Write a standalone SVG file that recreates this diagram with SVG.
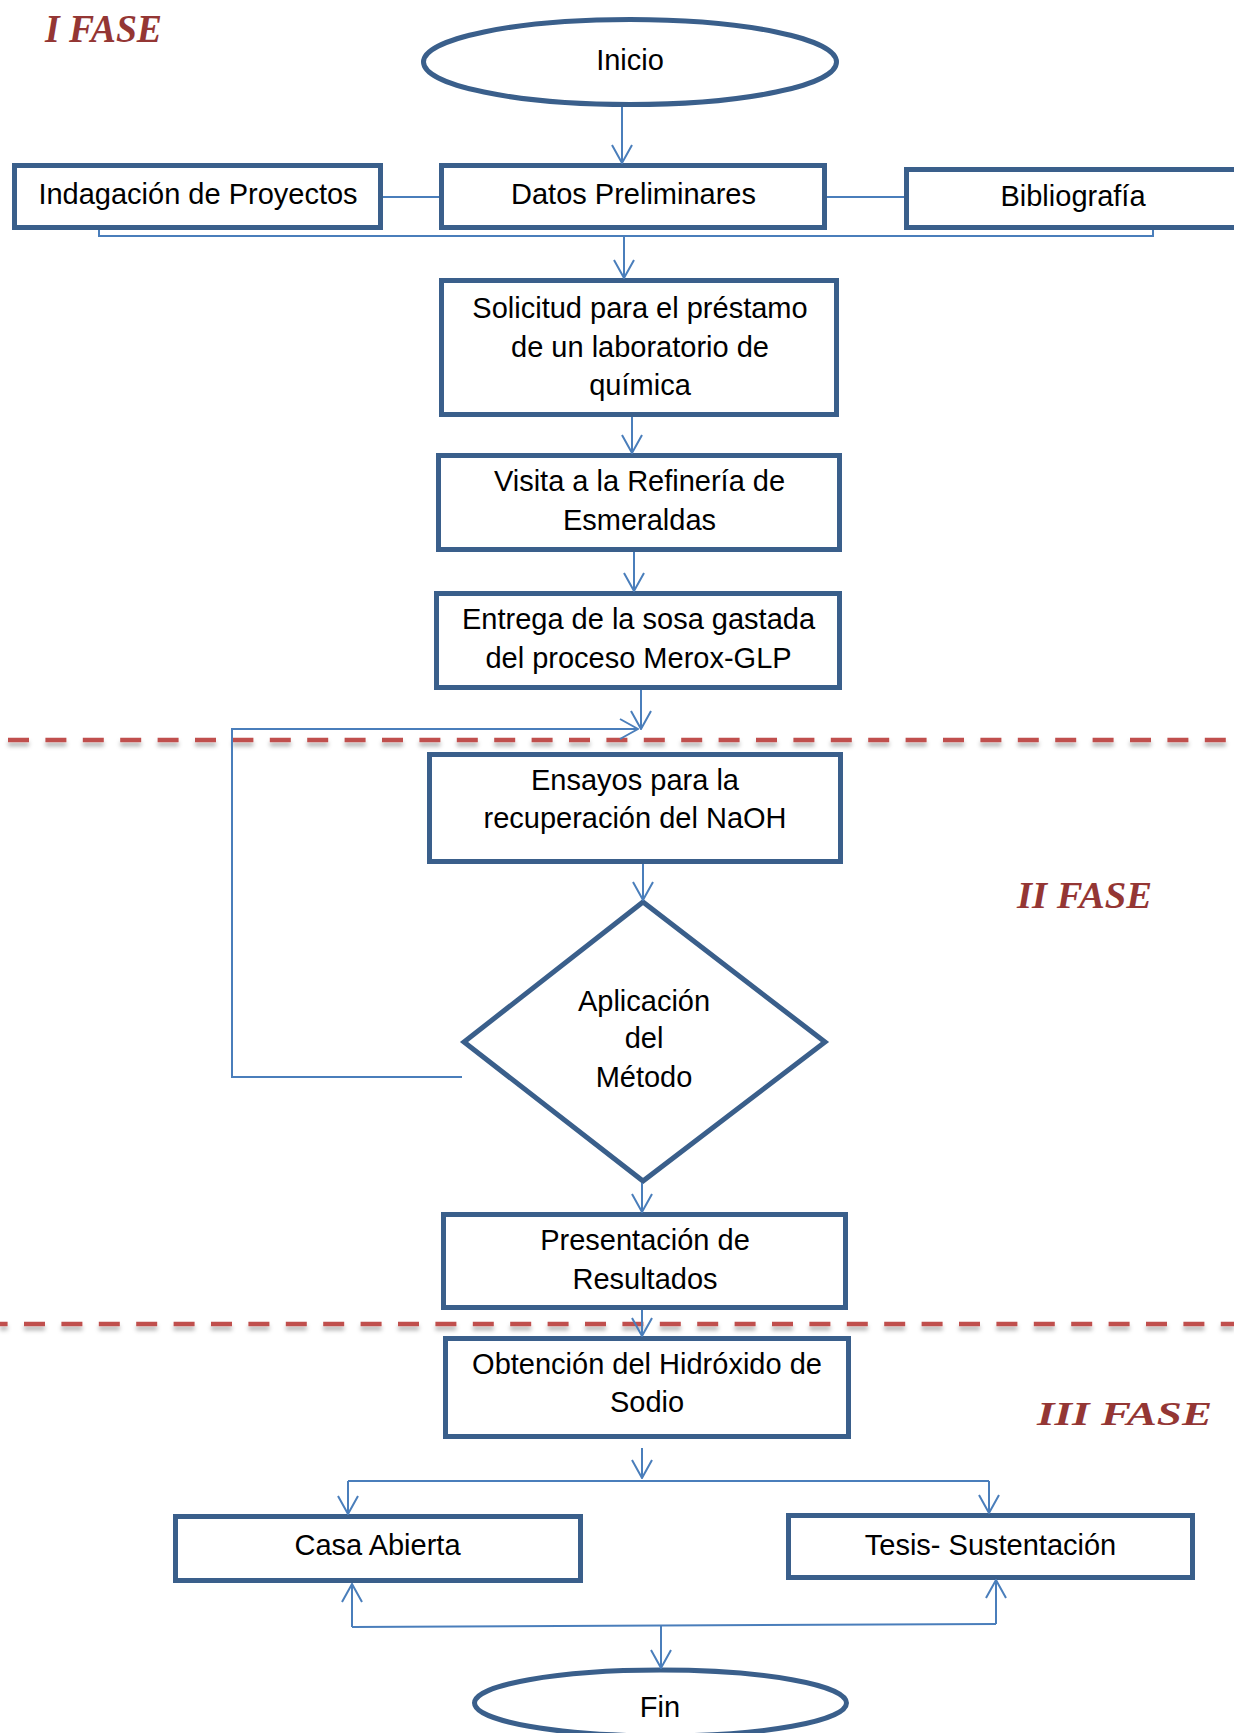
<svg xmlns="http://www.w3.org/2000/svg" width="1234" height="1733" viewBox="0 0 1234 1733">
<style>
.box{fill:#ffffff;stroke:#3A5F8B;stroke-width:5}
.lbl{font-family:"Liberation Sans",Arial,sans-serif;font-size:29px;fill:#000000;text-anchor:middle}
.fase{font-family:"Liberation Serif","Times New Roman",serif;font-weight:bold;font-style:italic;fill:#943634}
.con{fill:none;stroke:#4A7EBB;stroke-width:2}
.arr{marker-end:url(#ah)}
.dash{fill:none;stroke:#C0504D;stroke-width:4.5;stroke-dasharray:21 16.4}
</style>
<defs>
<marker id="ah" markerUnits="userSpaceOnUse" viewBox="0 0 20 22" refX="19" refY="11" markerWidth="20" markerHeight="22" orient="auto">
<path d="M1,1 L19,11 L1,21" fill="none" stroke="#4A7EBB" stroke-width="2"/>
</marker>
<filter id="sh" filterUnits="userSpaceOnUse" x="0" y="0" width="1234" height="1733">
<feDropShadow dx="0" dy="4" stdDeviation="2" flood-color="#000000" flood-opacity="0.3"/>
</filter>
</defs>

<g id="phase-labels">
<text class="fase" x="45" y="42" font-size="40" textLength="117" lengthAdjust="spacingAndGlyphs">I FASE</text>
<text class="fase" x="1017" y="908" font-size="37" textLength="135" lengthAdjust="spacingAndGlyphs">II FASE</text>
<text class="fase" x="1037" y="1425" font-size="34" textLength="175" lengthAdjust="spacingAndGlyphs">III FASE</text>
</g>

<g id="separators" filter="url(#sh)">
<line class="dash" x1="8" y1="740" x2="1226" y2="740"/>
<line class="dash" x1="0" y1="1324" x2="1234" y2="1324" stroke-dashoffset="13.4"/>
</g>

<g id="inicio">
<ellipse class="box" cx="630" cy="62" rx="206.5" ry="42.5"/>
<text class="lbl" x="630" y="70">Inicio</text>
</g>
<g id="indagacion">
<rect class="box" x="14.5" y="165.5" width="366" height="62"/>
<text class="lbl" x="198" y="204">Indagación de Proyectos</text>
</g>
<g id="datos">
<rect class="box" x="441.5" y="165.5" width="383" height="62"/>
<text class="lbl" x="633.5" y="204">Datos Preliminares</text>
</g>
<g id="bibliografia">
<rect class="box" x="906.5" y="169.5" width="340" height="58"/>
<text class="lbl" x="1073" y="206">Bibliografía</text>
</g>
<g id="solicitud">
<rect class="box" x="441.5" y="280.5" width="395" height="134"/>
<text class="lbl" x="640" y="318">Solicitud para el préstamo</text>
<text class="lbl" x="640" y="357">de un laboratorio de</text>
<text class="lbl" x="640" y="395">química</text>
</g>
<g id="visita">
<rect class="box" x="438.5" y="455.5" width="401" height="94"/>
<text class="lbl" x="639.5" y="491">Visita a la Refinería de</text>
<text class="lbl" x="639.5" y="530">Esmeraldas</text>
</g>
<g id="entrega">
<rect class="box" x="436.5" y="593.5" width="403" height="94"/>
<text class="lbl" x="638.5" y="629">Entrega de la sosa gastada</text>
<text class="lbl" x="638.5" y="668">del proceso Merox-GLP</text>
</g>
<g id="ensayos">
<rect class="box" x="429.5" y="754.5" width="411" height="107"/>
<text class="lbl" x="635" y="790">Ensayos para la</text>
<text class="lbl" x="635" y="828">recuperación del NaOH</text>
</g>
<g id="aplicacion">
<polygon class="box" points="643,902 825,1042 643,1181 464,1042"/>
<text class="lbl" x="644" y="1011">Aplicación</text>
<text class="lbl" x="644" y="1048">del</text>
<text class="lbl" x="644" y="1087">Método</text>
</g>
<g id="presentacion">
<rect class="box" x="443.5" y="1214.5" width="402" height="93"/>
<text class="lbl" x="645" y="1250">Presentación de</text>
<text class="lbl" x="645" y="1289">Resultados</text>
</g>
<g id="obtencion">
<rect class="box" x="445.5" y="1338.5" width="403" height="98"/>
<text class="lbl" x="647" y="1374">Obtención del Hidróxido de</text>
<text class="lbl" x="647" y="1412">Sodio</text>
</g>
<g id="casa">
<rect class="box" x="175.5" y="1516.5" width="405" height="64"/>
<text class="lbl" x="377.5" y="1555">Casa Abierta</text>
</g>
<g id="tesis">
<rect class="box" x="788.5" y="1515.5" width="404" height="62"/>
<text class="lbl" x="990.5" y="1555">Tesis- Sustentación</text>
</g>
<g id="fin">
<ellipse class="box" cx="660.5" cy="1703" rx="186" ry="33"/>
<text class="lbl" x="660" y="1717">Fin</text>
</g>

<g id="connectors">
<line class="con arr" x1="622" y1="107" x2="622" y2="163"/>
<line class="con" x1="383" y1="197" x2="439" y2="197"/>
<line class="con" x1="827" y1="197" x2="904" y2="197"/>
<polyline class="con" points="99,230 99,236 1153,236 1153,230"/>
<line class="con arr" x1="624" y1="236" x2="624" y2="278"/>
<line class="con arr" x1="632" y1="417" x2="632" y2="453"/>
<line class="con arr" x1="634" y1="552" x2="634" y2="591"/>
<line class="con arr" x1="641" y1="690" x2="641" y2="729"/>
<polyline class="con arr" points="462,1077 232,1077 232,729 638,729"/>
<line class="con arr" x1="643" y1="864" x2="643" y2="900"/>
<line class="con arr" x1="642" y1="1183" x2="642" y2="1212"/>
<line class="con arr" x1="642" y1="1310" x2="642" y2="1336"/>
<line class="con arr" x1="642" y1="1448" x2="642" y2="1478"/>
<line class="con" x1="348" y1="1481" x2="989" y2="1481"/>
<line class="con arr" x1="348" y1="1481" x2="348" y2="1514"/>
<line class="con arr" x1="989" y1="1481" x2="989" y2="1513"/>
<line class="con" x1="352" y1="1627" x2="996" y2="1624"/>
<line class="con arr" x1="352" y1="1627" x2="352" y2="1584"/>
<line class="con arr" x1="996" y1="1624" x2="996" y2="1580"/>
<line class="con arr" x1="661" y1="1626" x2="661" y2="1668"/>
</g>
</svg>
